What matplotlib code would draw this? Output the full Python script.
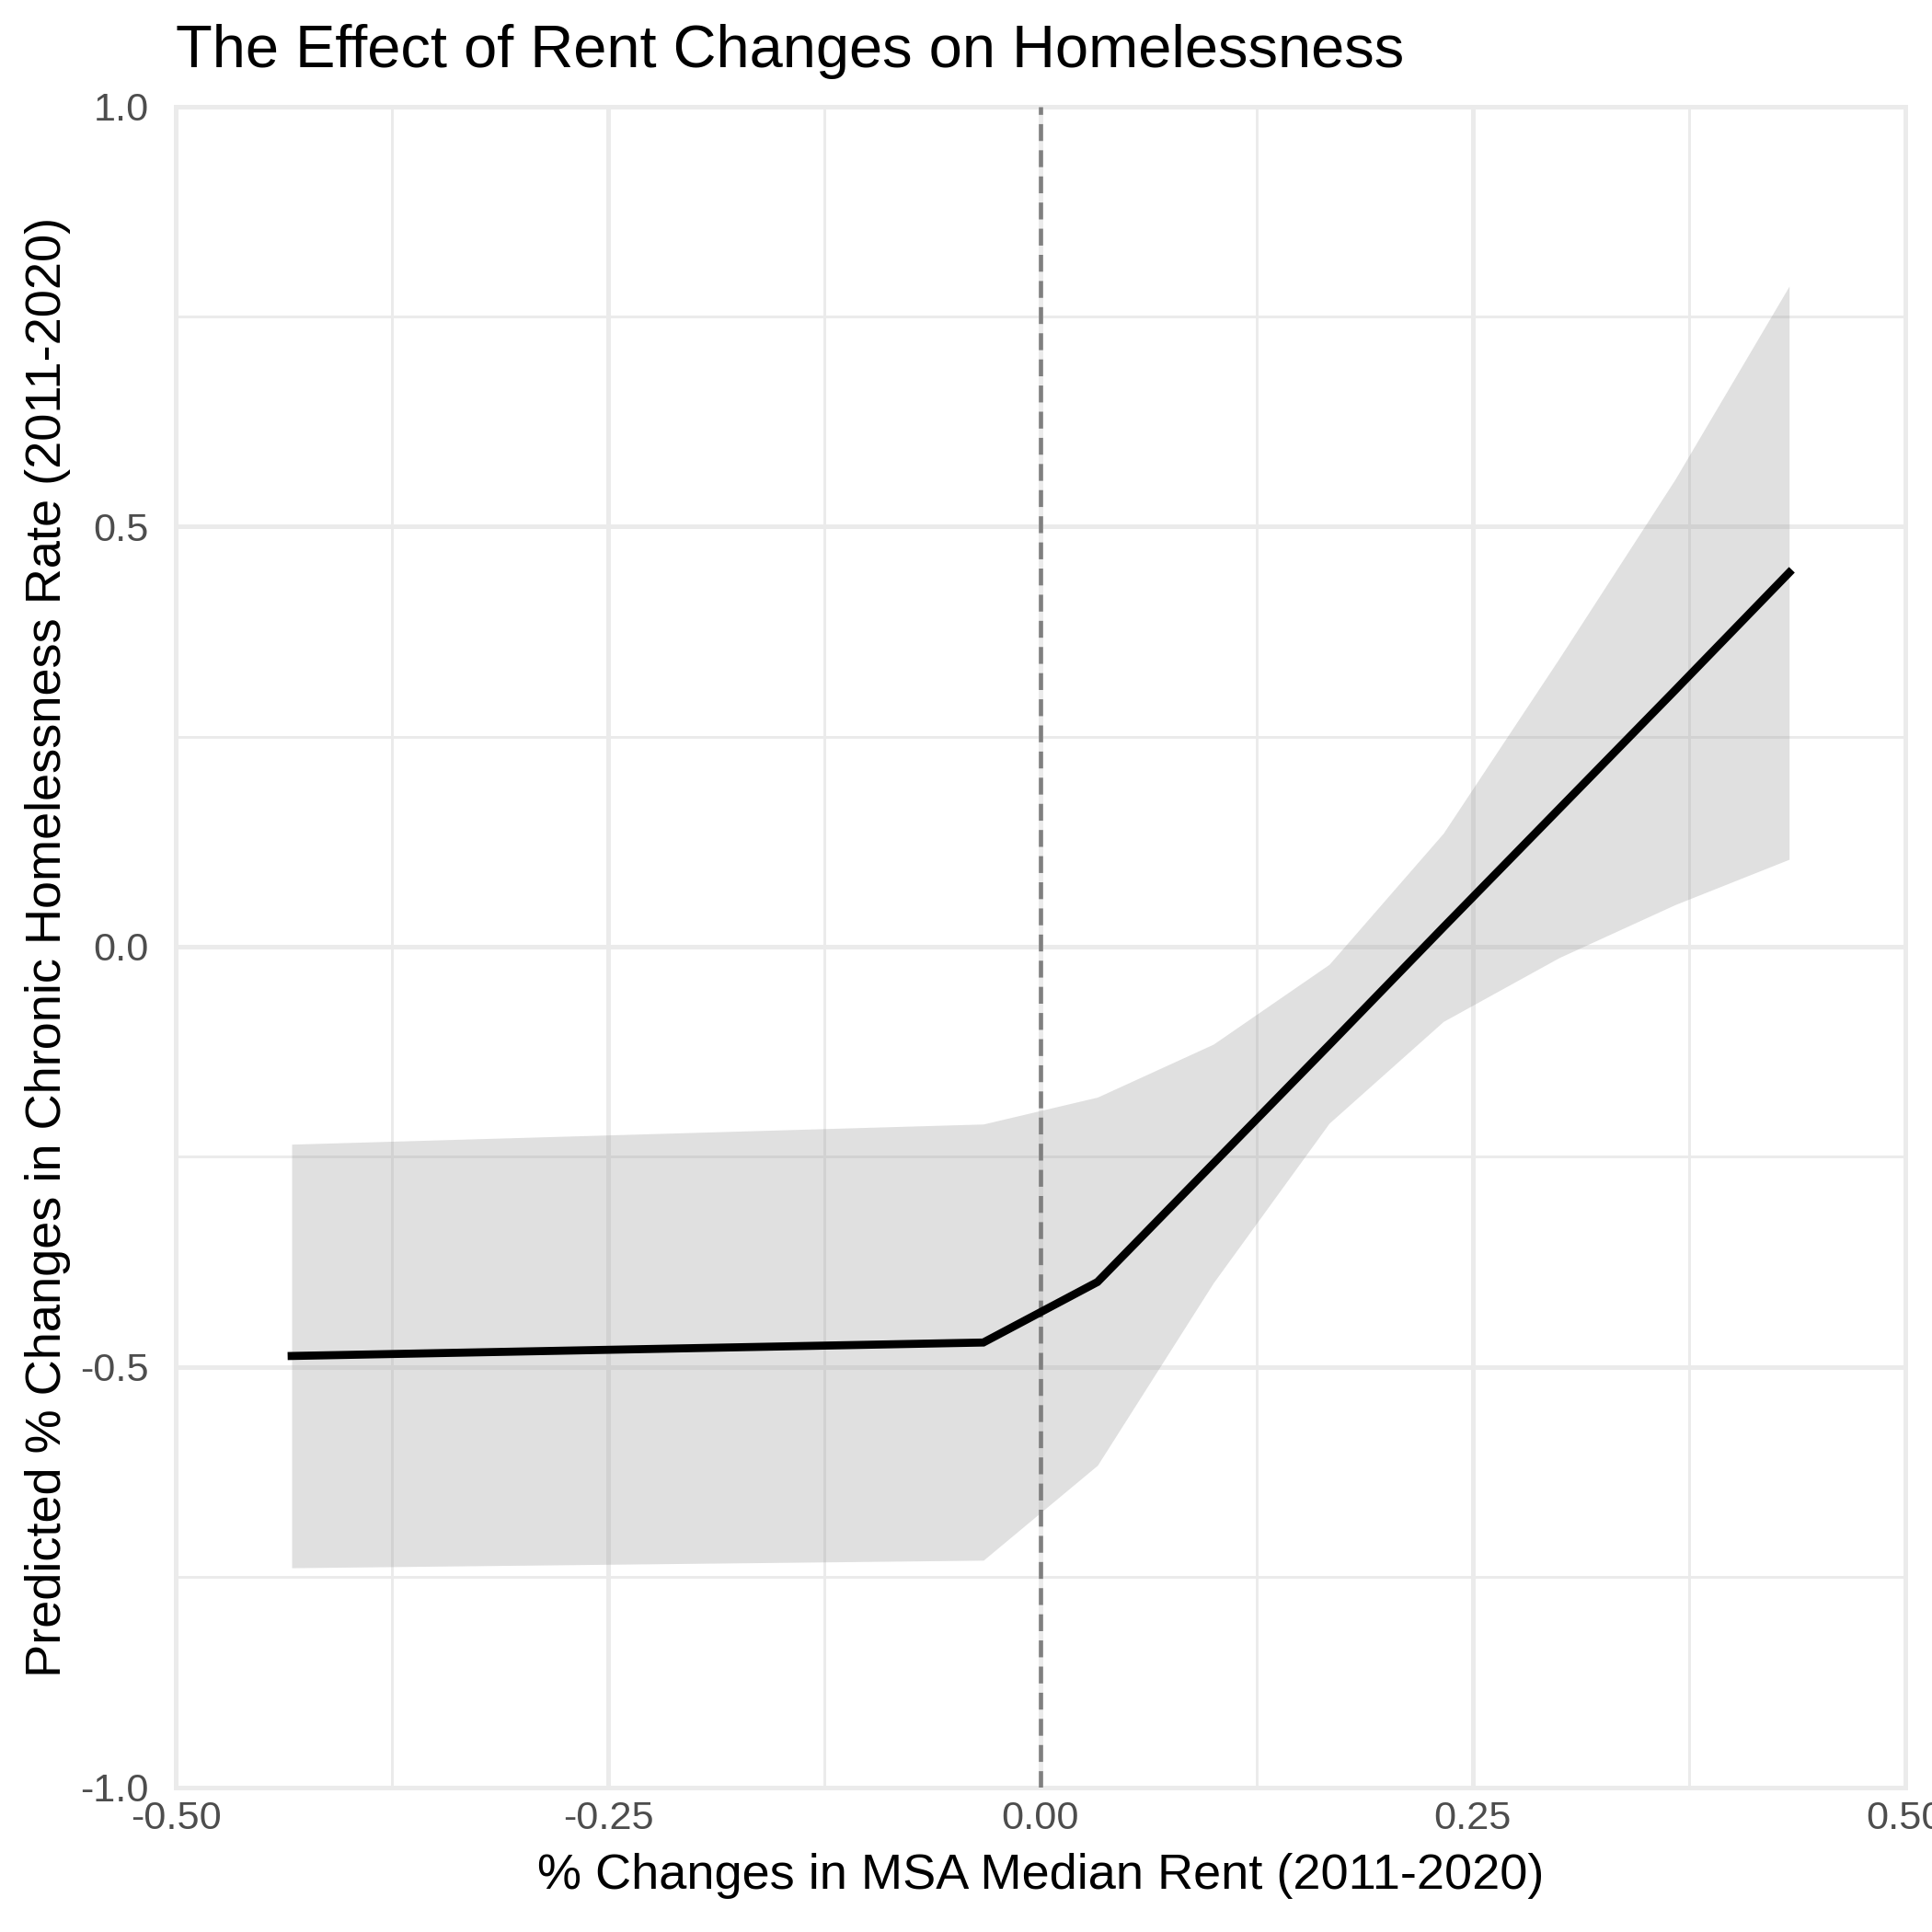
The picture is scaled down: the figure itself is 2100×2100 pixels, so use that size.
import matplotlib
matplotlib.use("Agg")
import matplotlib.pyplot as plt

plt.rcParams['font.family'] = ['Liberation Sans', 'DejaVu Sans']

# predicted values from the model
rent_change = [-0.433, -0.033, 0.033, 0.100, 0.167, 0.233, 0.300, 0.367, 0.433]
pred = [-0.487, -0.471, -0.399, -0.258, -0.117, 0.023, 0.164, 0.305, 0.445]
ci_low = [-0.739, -0.730, -0.617, -0.400, -0.210, -0.089, -0.013, 0.050, 0.104]
ci_high = [-0.235, -0.211, -0.179, -0.116, -0.021, 0.135, 0.343, 0.556, 0.786]

x_ticks = [-0.5, -0.25, 0.0, 0.25, 0.5]
x_tick_labels = ["-0.50", "-0.25", "0.00", "0.25", "0.50"]
y_ticks = [-1.0, -0.5, 0.0, 0.5, 1.0]
y_tick_labels = ["-1.0", "-0.5", "0.0", "0.5", "1.0"]
x_minor = [-0.375, -0.125, 0.125, 0.375]
y_minor = [-0.75, -0.25, 0.25, 0.75]

fig = plt.figure(figsize=(7, 7), dpi=300)
ax = fig.add_axes([0.091, 0.075, 0.895, 0.870])

ax.set_xlim(-0.5, 0.5)
ax.set_ylim(-1, 1)

# grid like theme_minimal
ax.set_xticks(x_ticks)
ax.set_xticklabels(x_tick_labels)
ax.set_yticks(y_ticks)
ax.set_yticklabels(y_tick_labels)
ax.set_xticks(x_minor, minor=True)
ax.set_yticks(y_minor, minor=True)
ax.grid(which='major', color='#EBEBEB', lw=1.2, zorder=0)
ax.grid(which='minor', color='#EBEBEB', lw=0.7, zorder=0)
for gl in ax.get_xgridlines() + ax.get_ygridlines():
    gl.set_clip_on(False)
ax.set_axisbelow(True)
for s in ax.spines.values():
    s.set_visible(False)
ax.tick_params(which='both', length=0)
ax.tick_params(axis='x', pad=3.5, labelsize=10.4, labelcolor='#4D4D4D')
ax.tick_params(axis='y', pad=7, labelsize=10.4, labelcolor='#4D4D4D')

ax.fill_between(rent_change, ci_low, ci_high, color='#999999', alpha=0.3,
                lw=0, zorder=1)
ax.axvline(0, color='#7F7F7F', lw=1.1, ls=(0, (4, 2.2)), zorder=2)
ax.plot(rent_change, pred, color='black', lw=2.1, zorder=3,
        solid_joinstyle='miter')

ax.set_title("The Effect of Rent Changes on Homelessness", loc='left',
             fontsize=15.6, color='black', y=1.023, pad=0)
ax.set_xlabel("% Changes in MSA Median Rent (2011-2020)", fontsize=13,
              color='black')
ax.set_ylabel("Predicted % Changes in Chronic Homelessness Rate (2011-2020)",
              fontsize=13, color='black')
ax.xaxis.set_label_coords(0.5, -0.039)
ax.yaxis.set_label_coords(-0.0607, 0.5)

fig.savefig("out.png", dpi=300, facecolor='white')
